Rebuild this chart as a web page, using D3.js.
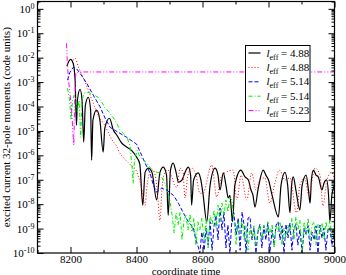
<!DOCTYPE html>
<html>
<head>
<meta charset="utf-8">
<script src="https://cdn.jsdelivr.net/npm/d3@7"></script>
<style>
  body { margin: 0; background: #fff; }
  svg { display: block; font-family: "Liberation Serif", "Times New Roman", serif; }
</style>
</head>
<body>
<svg id="chart" width="346" height="275"></svg>
<script>
// values: [coordinate time, moment]
const black488 = [
  [8189, 4.5e-3], [8200, 8.5e-3], [8208, 5.9e-3], [8214, 1.2e-3], [8218, 1.7e-5], [8221, 1.8e-4],
  [8229, 5.1e-4], [8235, 1.8e-4], [8240, 3.5e-6], [8245, 1.1e-4], [8254, 2.4e-4], [8261, 7.1e-5],
  [8264, 6.3e-7], [8268, 2.8e-5], [8279, 7.1e-5], [8289, 2.8e-5], [8299, 1.35e-6], [8304, 1.3e-5],
  [8318, 3.3e-5], [8330, 1.07e-5], [8340, 6.8e-6], [8355, 3.2e-6], [8370, 2.2e-6], [8385, 1.6e-6],
  [8400, 8.5e-7], [8410, 4.4e-7], [8419, 9.1e-9], [8426, 2.0e-7], [8436, 3.0e-7], [8447, 2.0e-7],
  [8461, 1.5e-8], [8471, 2.0e-7], [8481, 3.3e-7], [8491, 1.55e-7], [8496, 3.5e-9], [8503, 2.5e-7],
  [8511, 4.8e-7], [8520, 2.0e-7], [8527, 7.9e-8], [8538, 9.8e-8], [8547, 2.0e-7], [8557, 3.3e-7],
  [8564, 1.55e-7], [8567, 9.1e-9], [8573, 9.8e-8], [8587, 1.9e-7], [8595, 9.8e-8], [8601, 3.0e-8],
  [8613, 1.9e-9], [8623, 6.0e-8], [8638, 3.0e-7], [8647, 1.55e-7], [8653, 3.8e-8], [8663, 1.9e-7],
  [8671, 6.0e-8], [8678, 1.8e-8], [8683, 2.3e-8], [8691, 1.9e-9], [8698, 6.0e-8], [8716, 2.5e-7],
  [8729, 1.3e-7], [8739, 9.8e-8], [8747, 3.8e-8], [8753, 2.3e-8], [8759, 7.6e-9], [8768, 3.8e-8],
  [8784, 2.5e-7], [8792, 1.55e-7], [8800, 9.8e-8], [8811, 2.3e-8], [8830, 3.0e-9], [8838, 6.0e-8],
  [8850, 2.0e-7], [8858, 6.0e-8], [8865, 4.4e-9], [8870, 6.0e-8], [8875, 1.3e-7], [8883, 3.8e-8],
  [8895, 5.8e-9], [8902, 6.0e-8], [8914, 1.55e-7], [8921, 3.8e-8], [8926, 1.1e-8], [8930, 9.8e-8],
  [8936, 2.5e-7], [8944, 1.55e-7], [8951, 1.3e-7], [8962, 3.8e-8], [8968, 7.2e-8], [8976, 9.8e-8],
  [8982, 2.3e-8], [8986, 1.9e-9], [8992, 2.3e-8], [9000, 6.0e-8]
];

const red488 = [
  [8208, 7.8e-3], [8214, 9.5e-3], [8223, 4.5e-3], [8235, 1.9e-3], [8247, 8.1e-4], [8262, 2.4e-4],
  [8277, 7.1e-5], [8289, 3.3e-5], [8302, 1.9e-5], [8314, 8.9e-6], [8326, 4.2e-6], [8338, 2.6e-6],
  [8350, 1.2e-6], [8362, 7.6e-7], [8374, 5.2e-7], [8386, 3.6e-7], [8398, 2.5e-7], [8407, 1.2e-7],
  [8417, 3.8e-8], [8426, 9.1e-9], [8432, 6.0e-8], [8441, 2.0e-7], [8450, 2.5e-7], [8459, 9.8e-8],
  [8465, 1.5e-8], [8471, 2.2e-9], [8477, 3.8e-8], [8486, 2.0e-7], [8495, 2.5e-7], [8508, 1.2e-7],
  [8517, 5.5e-8], [8523, 5.0e-8], [8532, 3.0e-7], [8541, 2.0e-7], [8547, 1.8e-8], [8556, 1.55e-7],
  [8568, 3.0e-7], [8580, 1.55e-7], [8592, 2.8e-8], [8601, 2.8e-8], [8628, 4.0e-7], [8643, 2.0e-8],
  [8659, 1.55e-7], [8671, 2.0e-7], [8693, 2.5e-7], [8704, 1.5e-8], [8717, 1.55e-7], [8734, 1.5e-8],
  [8749, 1.9e-7], [8762, 3.8e-8], [8774, 9.8e-8], [8789, 1.2e-7], [8804, 1.1e-8], [8820, 7.9e-8],
  [8833, 2.5e-7], [8850, 9.8e-8], [8865, 1.2e-7], [8885, 4.4e-9], [8895, 6.0e-8], [8910, 1.2e-7],
  [8922, 2.3e-8], [8941, 3.0e-7], [8956, 1.55e-7], [8965, 8.5e-9], [8977, 9.8e-8], [8991, 2.0e-7],
  [9000, 9.8e-8]
];

const blue514 = [
  [8191, 1.2e-3], [8198, 2.5e-3], [8208, 4.0e-3], [8217, 3.7e-3], [8229, 2.3e-3], [8249, 9.0e-4],
  [8269, 2.9e-4], [8289, 1.0e-4], [8305, 3.3e-5], [8320, 1.4e-5], [8344, 8.9e-6], [8370, 5.5e-6],
  [8400, 2.9e-6], [8416, 9.9e-7], [8426, 4.8e-7], [8441, 1.9e-7], [8451, 6.0e-8], [8461, 3.1e-8],
  [8476, 4.5e-8], [8491, 3.8e-8], [8512, 2.3e-8], [8527, 1.1e-8], [8542, 4.4e-9], [8557, 1.9e-9],
  [8572, 1.1e-9], [8580, 3.4e-10], [8587, 1.8e-10], [8592, 1e-10], [8598, 7.2e-10], [8605, 1.3e-10],
  [8611, 1.05e-9], [8617, 2.1e-10], [8623, 1.9e-9], [8629, 1.3e-10], [8635, 1.3e-9], [8641, 3.5e-9],
  [8647, 3.4e-10], [8653, 6.9e-9], [8659, 8.7e-10], [8665, 4.8e-9], [8671, 1.6e-10], [8677, 1.4e-9],
  [8683, 1e-10], [8689, 2.2e-9], [8695, 4.4e-9], [8702, 5.5e-10], [8708, 2.7e-9], [8714, 1.3e-10],
  [8720, 4.8e-9], [8726, 1.4e-9], [8732, 1e-10], [8738, 2.7e-9], [8744, 3.0e-9], [8750, 3.4e-10],
  [8756, 1.05e-9], [8762, 1e-10], [8768, 7.2e-10], [8774, 1.5e-9], [8780, 1.6e-10], [8786, 1.3e-9],
  [8792, 3.4e-10], [8798, 1.7e-9], [8804, 1e-10], [8811, 8.7e-10], [8817, 2.1e-10], [8823, 1.4e-9],
  [8829, 1.9e-9], [8835, 3.4e-10], [8841, 1.3e-9], [8847, 1e-10], [8853, 1.5e-9], [8859, 4.1e-10],
  [8865, 1.7e-9], [8871, 1.3e-10], [8877, 1.05e-9], [8883, 1.5e-9], [8889, 2.1e-10], [8895, 8.7e-10],
  [8902, 1e-10], [8908, 1.05e-9], [8914, 5.5e-10], [8920, 1.3e-9], [8926, 1.3e-10], [8932, 7.2e-10],
  [8938, 3.4e-10], [8944, 1.3e-9], [8950, 1e-10], [8956, 1.4e-9], [8962, 4.1e-10], [8968, 1.05e-9],
  [8974, 1.3e-10], [8980, 8.7e-10], [8986, 1.1e-9], [8992, 2.1e-10], [9000, 7.2e-10]
];

const green514 = [
  [8191, 5.6e-4], [8197, 1.8e-4], [8202, 2.8e-5], [8206, 1.8e-4], [8211, 2.9e-4], [8217, 1.8e-4],
  [8221, 5.9e-5], [8226, 1.8e-4], [8231, 5.5e-6], [8235, 1.8e-4], [8241, 3.5e-4], [8253, 3.8e-4],
  [8268, 3.2e-4], [8283, 2.4e-4], [8295, 1.5e-4], [8305, 8.5e-5], [8315, 6.4e-5], [8335, 2.8e-5],
  [8350, 1.07e-5], [8362, 7.4e-6], [8371, 5.5e-6], [8380, 2.6e-6], [8386, 4.0e-7], [8390, 7.2e-8],
  [8394, 6.3e-7], [8402, 1.6e-6], [8411, 8.5e-7], [8431, 4.8e-7], [8451, 2.2e-7], [8471, 1.9e-7],
  [8491, 5.0e-8], [8501, 1.5e-8], [8508, 3.5e-9], [8514, 6.6e-10], [8520, 4.4e-9], [8526, 1.4e-9],
  [8532, 4.8e-9], [8538, 3.4e-10], [8544, 2.2e-9], [8550, 3.5e-9], [8556, 8.7e-10], [8562, 4.0e-9],
  [8568, 7.2e-10], [8574, 2.7e-9], [8580, 2.1e-10], [8586, 1.9e-9], [8592, 8.7e-10], [8598, 2.7e-9],
  [8605, 3.4e-10], [8611, 2.2e-9], [8617, 1.6e-10], [8623, 3.5e-9], [8629, 1.4e-9], [8635, 5.8e-9],
  [8641, 1.05e-9], [8647, 9.1e-9], [8653, 1.9e-9], [8659, 1.1e-8], [8665, 3.5e-9], [8671, 1.5e-8],
  [8677, 4.8e-9], [8683, 1.8e-8], [8689, 1.5e-8], [8695, 2.7e-9], [8702, 2.1e-10], [8708, 1.9e-9],
  [8714, 7.2e-10], [8720, 2.2e-9], [8726, 3.4e-10], [8732, 1.4e-9], [8738, 1.3e-10], [8744, 1.05e-9],
  [8750, 4.1e-10], [8756, 1.3e-9], [8762, 2.1e-10], [8768, 8.7e-10], [8774, 1.5e-9], [8780, 3.4e-10],
  [8786, 1.4e-9], [8792, 7.2e-10], [8798, 1.9e-9], [8804, 5.5e-10], [8811, 1.5e-9], [8817, 1.6e-10],
  [8823, 1.3e-9], [8829, 7.2e-10], [8835, 1.9e-9], [8841, 2.1e-10], [8847, 1.05e-9], [8853, 4.1e-10],
  [8859, 1.4e-9], [8865, 7.2e-10], [8871, 2.7e-9], [8877, 3.4e-10], [8883, 3.0e-9], [8889, 8.7e-10],
  [8895, 2.2e-9], [8902, 1.3e-10], [8908, 1.9e-9], [8914, 5.5e-10], [8920, 2.7e-9], [8926, 3.4e-10],
  [8932, 1.4e-9], [8938, 1.9e-9], [8944, 2.1e-10], [8950, 1.5e-9], [8956, 5.5e-10], [8962, 1.7e-9],
  [8968, 3.4e-10], [8974, 1.9e-9], [8980, 7.2e-10], [8986, 2.2e-9], [8992, 4.1e-10], [9000, 1.5e-9]
];

const magenta523 = [
  [8188, 3.9e-2], [8190, 7.8e-3], [8194, 1.2e-3], [8198, 3.8e-4], [8203, 8.5e-5], [8207, 1.07e-5],
  [8210, 2.6e-6], [8213, 2.0e-4], [8216, 2.3e-3], [8225, 2.6e-3], [8400, 2.6e-3], [8700, 2.6e-3],
  [9000, 2.6e-3]
];

const legendLabels = ["4.88", "4.88", "5.14", "5.14", "5.23"];
const xMajorTicks = [8200, 8400, 8600, 8800, 9000];
const xMinorTicks = [8100, 8300, 8500, 8700, 8900];
const yExponents = [-10, -9, -8, -7, -6, -5, -4, -3, -2, -1, 0];

const series = [
  { data: black488, color: "#000000", dash: null, width: 1.2, smooth: true },
  { data: red488, color: "#ff0000", dash: "1,2", width: 1, smooth: true },
  { data: blue514, color: "#0000ff", dash: "4,2", width: 1, smooth: false },
  { data: green514, color: "#00ee00", dash: "4,2,1,2", width: 1, smooth: false },
  { data: magenta523, color: "#ff00ff", dash: "5,2,1,2,1,2", width: 1, smooth: false }
];

const svg = d3.select("#chart");
const plotLeft = 37.5, plotRight = 334.5, plotTop = 1.5, plotBottom = 253;

const x = d3.scaleLinear().domain([8100, 9000]).range([plotLeft, plotRight]);
const y = d3.scaleLog().domain([1e-10, 2]).range([plotBottom, plotTop]);

svg.append("clipPath").attr("id", "plotclip")
  .append("rect").attr("x", plotLeft).attr("y", plotTop)
  .attr("width", plotRight - plotLeft).attr("height", plotBottom - plotTop);

// curves
const plot = svg.append("g").attr("clip-path", "url(#plotclip)");
series.forEach(function(s) {
  const line = d3.line()
    .x(d => x(d[0]))
    .y(d => y(d[1]))
    .curve(s.smooth ? d3.curveMonotoneX : d3.curveLinear);
  plot.append("path")
    .datum(s.data)
    .attr("fill", "none")
    .attr("stroke", s.color)
    .attr("stroke-width", s.width)
    .attr("stroke-dasharray", s.dash)
    .attr("d", line);
});

// minor log ticks
let yMinor = [];
for (let e = -10; e < 1; e++) {
  for (let k = 2; k <= 9; k++) {
    const v = k * Math.pow(10, e);
    if (v <= 2) yMinor.push(v);
  }
}
const yMajor = yExponents.map(e => Math.pow(10, e));

function styleAxis(g) {
  g.attr("font-family", "Liberation Serif");
  g.select(".domain").remove();
  g.selectAll("line").attr("stroke", "#000");
  g.selectAll("text").attr("fill", "#000");
}

// bottom axis
svg.append("g").attr("transform", "translate(0," + plotBottom + ")")
  .call(d3.axisBottom(x).tickValues(xMajorTicks).tickSize(-6).tickPadding(2).tickFormat(d3.format("d")))
  .call(styleAxis)
  .selectAll("text").attr("font-size", "11px");
svg.append("g").attr("transform", "translate(0," + plotBottom + ")")
  .call(d3.axisBottom(x).tickValues(xMinorTicks).tickSize(-3).tickFormat(""))
  .call(styleAxis);
// top axis
svg.append("g").attr("transform", "translate(0," + plotTop + ")")
  .call(d3.axisTop(x).tickValues(xMajorTicks).tickSize(-6).tickFormat(""))
  .call(styleAxis);
svg.append("g").attr("transform", "translate(0," + plotTop + ")")
  .call(d3.axisTop(x).tickValues(xMinorTicks).tickSize(-3).tickFormat(""))
  .call(styleAxis);

// left axis
const yAxisG = svg.append("g").attr("transform", "translate(" + plotLeft + ",0)")
  .call(d3.axisLeft(y).tickValues(yMajor).tickSize(-6).tickPadding(3).tickFormat(""))
  .call(styleAxis);
yAxisG.selectAll(".tick text").each(function(d) {
  const t = d3.select(this).attr("font-size", "11px");
  t.append("tspan").text("10");
  t.append("tspan").attr("dy", "-0.5em").attr("font-size", "8px")
    .text(String(Math.round(Math.log10(d))));
});
svg.append("g").attr("transform", "translate(" + plotLeft + ",0)")
  .call(d3.axisLeft(y).tickValues(yMinor).tickSize(-3).tickFormat(""))
  .call(styleAxis);
// right axis
svg.append("g").attr("transform", "translate(" + plotRight + ",0)")
  .call(d3.axisRight(y).tickValues(yMajor).tickSize(-6).tickFormat(""))
  .call(styleAxis);
svg.append("g").attr("transform", "translate(" + plotRight + ",0)")
  .call(d3.axisRight(y).tickValues(yMinor).tickSize(-3).tickFormat(""))
  .call(styleAxis);

// frame
svg.append("rect")
  .attr("x", plotLeft).attr("y", plotTop)
  .attr("width", plotRight - plotLeft).attr("height", plotBottom - plotTop)
  .attr("fill", "none").attr("stroke", "#000").attr("stroke-width", 1.2);

// axis titles
svg.append("text")
  .attr("x", (plotLeft + plotRight) / 2)
  .attr("y", 274.5)
  .attr("text-anchor", "middle")
  .attr("font-size", "11px")
  .text("coordinate time");

svg.append("text")
  .attr("transform", "translate(10," + ((plotTop + plotBottom) / 2) + ") rotate(-90)")
  .attr("text-anchor", "middle")
  .attr("font-size", "11px")
  .text("excited current 32-pole moments (code units)");

// legend
const legend = svg.append("g");
legend.append("rect")
  .attr("x", 245.5).attr("y", 45.5)
  .attr("width", 64.5).attr("height", 76)
  .attr("fill", "#fff").attr("stroke", "#000").attr("stroke-width", 1);

series.forEach(function(s, i) {
  const cy = 53 + i * 14.4;
  legend.append("line")
    .attr("x1", 248.5).attr("x2", 260.5)
    .attr("y1", cy).attr("y2", cy)
    .attr("stroke", s.color)
    .attr("stroke-width", s.width)
    .attr("stroke-dasharray", s.dash);
  const t = legend.append("text")
    .attr("x", 266.5).attr("y", cy + 3.5)
    .attr("font-size", "11px");
  t.append("tspan").attr("font-style", "italic").text("l");
  t.append("tspan").attr("font-size", "8px").attr("dy", "3").text("eff");
  t.append("tspan").attr("dy", "-3").text(" = " + legendLabels[i]);
});
</script>
</body>
</html>
